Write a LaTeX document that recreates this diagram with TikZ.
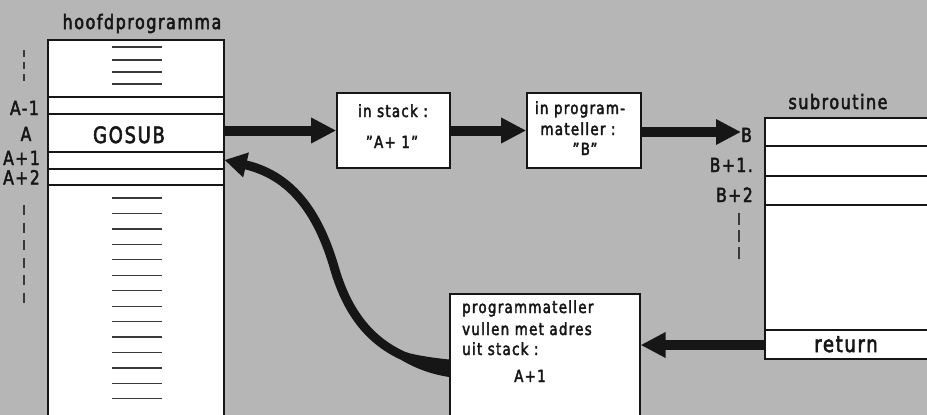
\documentclass[tikz,border=0pt]{standalone}
\usepackage{fontspec}
\setmainfont{DejaVu Sans}[FakeStretch=0.8, LetterSpace=7.5, FakeBold=2.5]
\usetikzlibrary{arrows.meta}
\definecolor{paper}{RGB}{182,182,182}
\definecolor{ink}{RGB}{22,22,22}

\tikzset{
  box/.style={draw=ink, fill=white, line width=1.6pt, inner sep=0pt},
  rule/.style={draw=ink, line width=1.3pt},
  filler/.style={draw=ink!85, line width=1.2pt},
  tick/.style={draw=ink!85, line width=1.3pt},
  bigarrow/.style={draw=ink, line width=10pt, -{Triangle[length=25pt,width=24pt]}},
  curvearrow/.style={draw=ink, line width=9pt, -{Triangle[length=22pt,width=24pt]}},
  lbl/.style={font=\fontsize{19.5}{19.5}\selectfont, text=ink, inner sep=0pt},
  big/.style={font=\fontsize{22.5}{22.5}\selectfont, text=ink, inner sep=0pt},
  ttl/.style={font=\fontsize{20}{20}\selectfont, text=ink, inner sep=0pt},
  txt/.style={font=\fontsize{16.8}{16.8}\selectfont, text=ink, inner sep=0pt},
}

\begin{document}
\begin{tikzpicture}[x=1pt, y=-1pt]
  % sheet
  \fill[paper] (0,0) rectangle (927,415);
  \useasboundingbox (0,0) rectangle (927,415);
  \clip (0,0) rectangle (927,415);

  % ---- main program -------------------------------------------------
  \node[box, anchor=north west, minimum width=176pt, minimum height=400pt] (main) at (47,39) {};
  \foreach \y in {97,114,152,169,185} \draw[rule] (47,\y) -- (223,\y);
  \foreach \y in {47,60,72,84} \draw[filler] (112,\y) -- (162,\y);
  \foreach \k in {0,...,13} \draw[filler] (112,198+15.45*\k) -- (162,198+15.45*\k);
  \node[ttl, anchor=base] (hoofd) at (142,29) {hoofdprogramma};
  \node[big, anchor=base] (gosub) at (129,143) {GOSUB};

  % address marks
  \draw[tick, dash pattern=on 7pt off 5pt] (24,50) -- (24,84);
  \draw[tick, dash pattern=on 10pt off 7.5pt] (24,205) -- (24,308);
  \node[lbl, anchor=base east] (am1) at (39,115) {A-1};
  \node[lbl, anchor=base] (a0) at (26,141) {A};
  \node[lbl, anchor=base east] (ap1) at (40,165) {A+1};
  \node[lbl, anchor=base east] (ap2) at (40,184.5) {A+2};

  % ---- stack and program counter ------------------------------------
  \node[box, minimum width=113pt, minimum height=75pt] (stack) at (393.5,130.5) {};
  \node[txt, anchor=base] (stack1) at (393,117) {in stack :};
  \node[txt, anchor=base] (stack2) at (392,148) {”A+ 1”};

  \node[box, minimum width=114pt, minimum height=75pt] (pc) at (584,130.5) {};
  \node[txt, anchor=base] (pc1) at (580,114) {in program-};
  \node[txt, anchor=base] (pc2) at (578,135) {mateller :};
  \node[txt, anchor=base] (pc3) at (585,155) {”B”};

  % ---- subroutine ---------------------------------------------------
  \node[box, anchor=north west, minimum width=200pt, minimum height=241pt] (sub) at (764,117) {};
  \foreach \y in {146,176,205,330} \draw[rule] (764,\y) -- (940,\y);
  \node[ttl, anchor=base] (subttl) at (838,109) {subroutine};
  \node[big, anchor=base] (ret) at (846,352) {return};
  \node[lbl, anchor=base west] (bl) at (741,142) {B};
  \node[lbl, anchor=base east] (bp1) at (753,172) {B+1.};
  \node[lbl, anchor=base east] (bp2) at (753,202) {B+2};
  \draw[tick, dash pattern=on 12pt off 5pt] (739,213) -- (739,262);

  % ---- reload box ---------------------------------------------------
  \node[box, anchor=north west, minimum width=190pt, minimum height=140pt] (load) at (449,293) {};
  \node[txt, anchor=base west] (load1) at (462,313) {programmateller};
  \node[txt, anchor=base west] (load2) at (462,335) {vullen met adres};
  \node[txt, anchor=base west] (load3) at (462,355) {uit stack :};
  \node[txt, anchor=base] (load4) at (530,382) {A+1};

  % ---- flow arrows --------------------------------------------------
  \draw[bigarrow] (main.east |- stack.west) -- (stack.west);
  \draw[bigarrow] (stack.east) -- (pc.west);
  \coordinate (bin) at (bl.west |- 0,132);
  \draw[bigarrow] (pc.east |- bin) -- (bin);
  \coordinate (retrow) at (0,345);
  \draw[bigarrow] (sub.west |- retrow) -- (load.east |- retrow);

  % return path back into the main program
  \coordinate (tail) at (load.west |- 0,368);
  \coordinate (back) at (main.east |- 0,160);
  \coordinate (bend) at (335,270);
  \fill[ink] (449,359.5) .. controls (430,357.5) and (415,355) .. (405.9,352.3)
             -- (402.3,360.5) .. controls (415,368) and (430,374) .. (449,377) -- cycle;
  \draw[curvearrow] (tail) .. controls +(-69,-8) and +(15,50) .. (bend)
                           .. controls +(-17,-60) and +(65,15) .. (back);
\end{tikzpicture}
\end{document}
